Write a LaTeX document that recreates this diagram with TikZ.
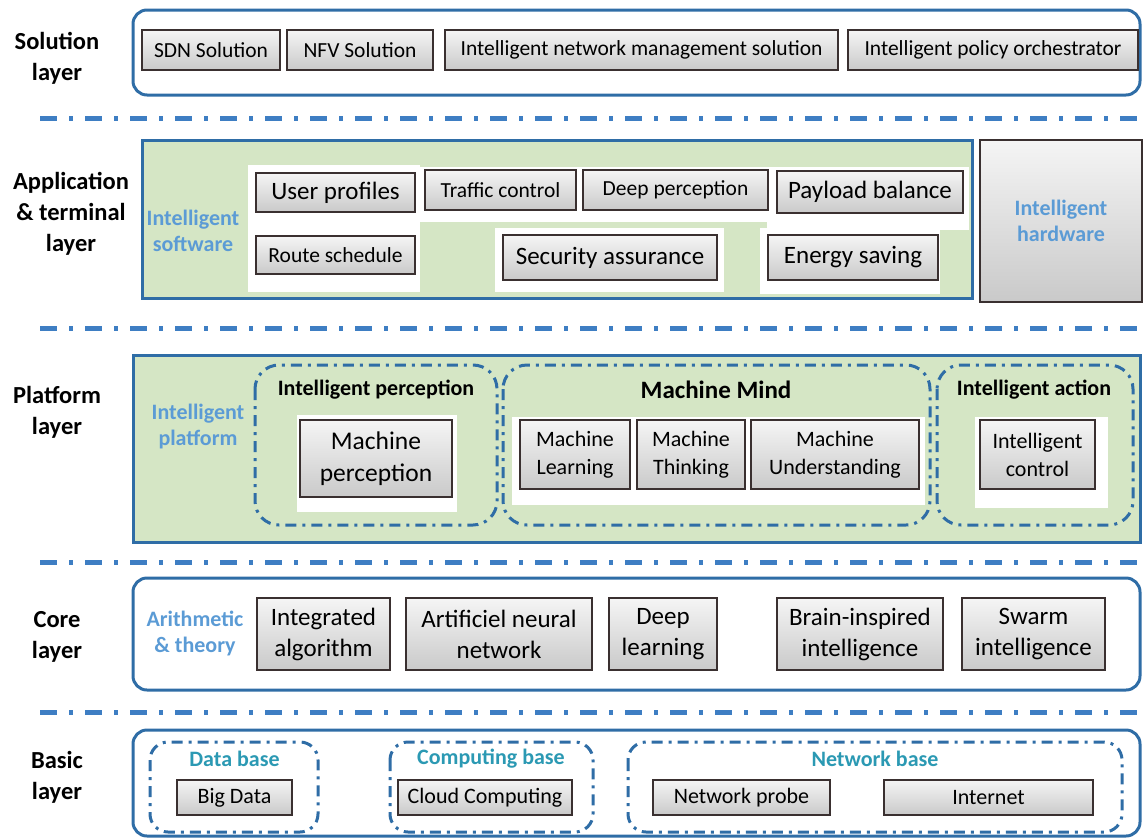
\documentclass[tikz,border=0pt]{standalone}
\usepackage{fontspec}
\setmainfont{Carlito}
\usetikzlibrary{positioning}
\definecolor{layerblue}{HTML}{2F6DA6}
\definecolor{sepblue}{HTML}{3E7EC3}
\definecolor{lblblue}{HTML}{5B9BD5}
\definecolor{tealtxt}{HTML}{2B99B3}
\definecolor{appgreen}{HTML}{D5E6C5}
\definecolor{boxedge}{HTML}{3A3030}
\newcommand{\fs}[2]{\fontsize{#1}{#2}\selectfont}

\tikzset{
  grbox/.style={draw=boxedge, line width=1.2pt, top color=gray!8, bottom color=gray!42, align=center, inner sep=0pt, font=\fs{21.5}{25}},
  layerlbl/.style={font=\bfseries\fs{24.5}{31}, align=center},
  layerframe/.style={draw=layerblue, line width=3pt, rounded corners=14pt},
  sepline/.style={sepblue, line width=5pt, dash pattern=on 17pt off 12pt on 4pt off 12pt},
  grp/.style={draw=layerblue, line width=3pt, dash pattern=on 11pt off 6pt on 3pt off 6pt, rounded corners=24pt},
  sidelbl/.style={text=lblblue, font=\bfseries\fs{22}{26}, align=center},
  grptitle/.style={font=\bfseries\fs{22}{24}},
  whitepatch/.style={fill=white, draw=none},
}

\begin{document}
\begin{tikzpicture}[x=1pt, y=-1pt]
    \useasboundingbox (0,0) rectangle (1148,838);

    %Layer names
    \node[layerlbl] (solname) at (57,58) {Solution\\layer};
    \node[layerlbl] (appname) at (71,214) {Application\\\& terminal\\layer};
    \node[layerlbl] (platname) at (57,412) {Platform\\layer};
    \node[layerlbl] (corename) at (57,637) {Core\\layer};
    \node[layerlbl] (basicname) at (57,777) {Basic\\layer};

    %Separators
    \draw[sepline] (40,118) -- (1140,118);
    \draw[sepline] (40,328) -- (1140,328);
    \draw[sepline] (40,562) -- (1140,562);
    \draw[sepline] (40,712) -- (1140,712);

    %Solution layer
    \draw[layerframe] (133,10) rectangle (1140,95);
    \node[grbox, minimum width=138, minimum height=40] (sdn) at (211,50) {SDN Solution};
    \node[grbox, minimum width=146, minimum height=40] (nfv) at (360,50) {NFV Solution};
    \node[grbox, minimum width=393, minimum height=40] (netmgmt) at (641.5,50) {Intelligent network management solution};
    \node[grbox, minimum width=290, minimum height=40] (policy) at (993,50) {Intelligent policy orchestrator};

    %Application & terminal layer
    \draw[draw=layerblue, line width=3pt, fill=appgreen] (142,140) rectangle (972,298);
    \fill[whitepatch] (248,165) rectangle (420,292);
    \fill[whitepatch] (420,167) rectangle (770,222);
    \fill[whitepatch] (495,228) rectangle (724,292);
    \fill[whitepatch] (767,167) rectangle (969,230);
    \fill[whitepatch] (760,228) rectangle (940,294);
    \node[sidelbl] (software) at (193,231) {Intelligent\\software};
    \node[grbox, font=\fs{25}{28}, minimum width=159, minimum height=39] (userprof) at (335.5,192.5) {User profiles};
    \node[grbox, minimum width=151, minimum height=40] (traffic) at (500.5,190) {Traffic control};
    \node[grbox, minimum width=185, minimum height=40] (deepperc) at (675.5,190) {Deep perception};
    \node[grbox, font=\fs{25}{28}, minimum width=186, minimum height=42] (payload) at (870,192) {Payload balance};
    \node[grbox, minimum width=159, minimum height=38] (route) at (335.5,255) {Route schedule};
    \node[grbox, font=\fs{25}{28}, minimum width=214, minimum height=45] (security) at (610,257.5) {Security assurance};
    \node[grbox, font=\fs{25}{28}, minimum width=170, minimum height=45] (energy) at (853,257.5) {Energy saving};
    \node[grbox, minimum width=162, minimum height=162, text=lblblue, font=\bfseries\fs{22}{26}] (hardware) at (1061,221) {Intelligent\\hardware};

    %Platform layer
    \draw[draw=layerblue, line width=3pt, fill=appgreen] (133,355) rectangle (1140,542);
    \fill[whitepatch] (297,415) rectangle (457,512);
    \fill[whitepatch] (512,417) rectangle (925,505);
    \fill[whitepatch] (975,417) rectangle (1108,508);
    \node[sidelbl] (platform) at (198,427) {Intelligent\\platform};
    \draw[grp] (255,365) rectangle (497,525);
    \draw[grp] (503,365) rectangle (930,525);
    \draw[grp] (937,365) rectangle (1133,525);
    \node[grptitle] (perctitle) at (376,390) {Intelligent perception};
    \node[grptitle, font=\bfseries\fs{25}{28}] (mindtitle) at (716,390) {Machine Mind};
    \node[grptitle] (acttitle) at (1034,390) {Intelligent action};
    \node[grbox, font=\fs{25.5}{32}, minimum width=152, minimum height=77] (machperc) at (376,458.5) {Machine\\perception};
    \node[grbox, font=\fs{22}{28}, minimum width=110, minimum height=69] (machlearn) at (575,454.5) {Machine\\Learning};
    \node[grbox, font=\fs{22}{28}, minimum width=108, minimum height=69] (machthink) at (691,454.5) {Machine\\Thinking};
    \node[grbox, font=\fs{22}{28}, minimum width=168, minimum height=69] (machunder) at (835,454.5) {Machine\\Understanding};
    \node[grbox, font=\fs{22}{28}, minimum width=115, minimum height=69] (intctrl) at (1037.5,454.5) {Intelligent\\control};

    %Core layer
    \draw[layerframe] (133,578) rectangle (1140,690);
    \node[sidelbl] (arith) at (195,633) {Arithmetic\\\& theory};
    \node[grbox, font=\fs{25}{31}, minimum width=133, minimum height=72] (integalg) at (323.5,634) {Integrated\\algorithm};
    \node[grbox, font=\fs{25}{31}, minimum width=186, minimum height=72] (neural) at (499,634) {Artificiel neural\\network};
    \node[grbox, font=\fs{25}{31}, minimum width=108, minimum height=72] (deeplearn) at (663,634) {Deep\\learning};
    \node[grbox, font=\fs{25}{31}, minimum width=166, minimum height=72] (brain) at (860,634) {Brain-inspired\\intelligence};
    \node[grbox, font=\fs{25}{31}, minimum width=143, minimum height=72] (swarm) at (1033.5,634) {Swarm\\intelligence};

    %Basic layer
    \draw[layerframe] (133,730) rectangle (1140,836);
    \draw[grp, rounded corners=18pt] (150,742) rectangle (318,832);
    \draw[grp, rounded corners=18pt] (390,742) rectangle (593,832);
    \draw[grp, rounded corners=18pt] (628,742) rectangle (1122,832);
    \node[grptitle, text=tealtxt] (datatitle) at (234.5,759) {Data base};
    \node[grptitle, text=tealtxt] (comptitle) at (491,759) {Computing base};
    \node[grptitle, text=tealtxt] (nettitle) at (875,759) {Network base};
    \node[grbox, font=\fs{22}{25}, minimum width=115, minimum height=35] (bigdata) at (234.5,797.5) {Big Data};
    \node[grbox, font=\fs{22}{25}, minimum width=174, minimum height=35] (cloud) at (485,797.5) {Cloud Computing};
    \node[grbox, font=\fs{22}{25}, minimum width=177, minimum height=35] (probe) at (741.5,797.5) {Network probe};
    \node[grbox, font=\fs{22}{25}, minimum width=209, minimum height=35] (internet) at (988.5,797.5) {Internet};
\end{tikzpicture}
\end{document}
